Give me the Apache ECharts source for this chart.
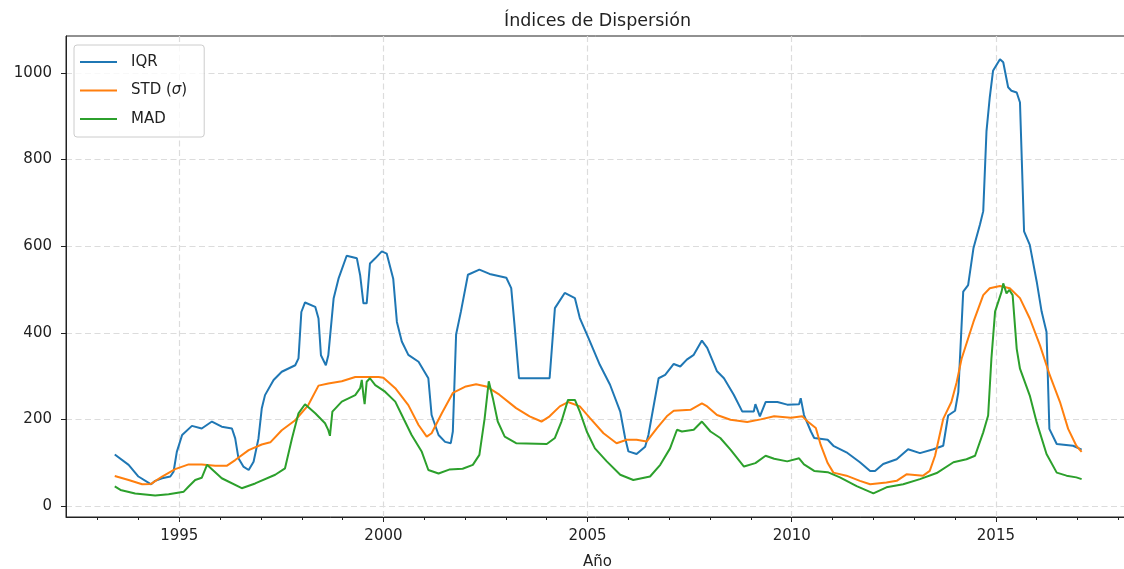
<!DOCTYPE html>
<html>
<head>
<meta charset="utf-8">
<script src="https://cdn.jsdelivr.net/npm/echarts@6/dist/echarts.min.js"></script>
<style>
  html, body { margin: 0; padding: 0; background: #fff; }
  #chart { width: 1124px; height: 569px; }
</style>
</head>
<body>
<div id="chart"></div>
<script>
// Dispersion indices over time (decimal years)
const iqrYears = [1993.42,1993.76,1994.0,1994.31,1994.41,1994.58,1994.78,1994.86,1994.94,1995.07,1995.31,1995.55,1995.80,1996.04,1996.29,1996.37,1996.45,1996.57,1996.70,1996.82,1996.94,1997.02,1997.10,1997.31,1997.51,1997.84,1997.92,1997.99,1998.08,1998.33,1998.41,1998.47,1998.59,1998.65,1998.78,1998.90,1999.10,1999.35,1999.43,1999.51,1999.59,1999.67,1999.80,1999.96,2000.08,2000.24,2000.33,2000.45,2000.61,2000.86,2001.10,2001.18,2001.35,2001.51,2001.65,2001.70,2001.78,2001.90,2002.07,2002.35,2002.60,2003.01,2003.13,2003.21,2003.32,2004.07,2004.20,2004.44,2004.69,2004.81,2005.02,2005.30,2005.55,2005.80,2005.92,2006.00,2006.20,2006.41,2006.49,2006.74,2006.90,2007.11,2007.27,2007.43,2007.60,2007.80,2007.93,2008.17,2008.34,2008.58,2008.79,2009.07,2009.11,2009.22,2009.36,2009.65,2009.89,2010.18,2010.22,2010.30,2010.47,2010.55,2010.88,2011.02,2011.34,2011.67,2011.92,2012.04,2012.24,2012.57,2012.85,2013.14,2013.47,2013.71,2013.83,2014.00,2014.08,2014.20,2014.32,2014.45,2014.61,2014.69,2014.77,2014.85,2014.93,2015.10,2015.18,2015.30,2015.38,2015.51,2015.59,2015.69,2015.83,2016.00,2016.12,2016.24,2016.31,2016.49,2016.89,2017.10];
const iqrValues = [119,95,68,50,58,64,68,79,125,164,185,179,195,183,179,156,110,91,83,102,156,225,256,291,310,325,341,448,470,460,433,348,325,348,479,525,578,572,533,468,468,560,572,588,583,525,425,380,349,333,295,210,164,148,145,172,396,450,534,546,536,527,503,419,295,295,457,492,480,434,388,326,280,218,157,126,120,137,164,295,303,328,322,338,349,382,365,311,295,257,218,218,235,207,240,240,234,235,249,210,172,157,153,139,124,101,81,81,97,108,131,122,131,139,209,220,263,495,510,595,650,681,866,944,1005,1032,1025,967,959,955,932,634,603,518,449,402,178,143,139,130];

const stdYears = [1993.42,1993.76,1994.09,1994.31,1994.58,1994.90,1995.23,1995.55,1995.88,1996.17,1996.37,1996.70,1997.02,1997.23,1997.51,1997.84,1998.16,1998.41,1998.65,1998.98,1999.31,1999.88,2000.00,2000.29,2000.61,2000.86,2001.06,2001.18,2001.43,2001.70,2002.02,2002.27,2002.52,2002.84,2003.25,2003.58,2003.87,2004.07,2004.32,2004.52,2004.81,2005.06,2005.39,2005.71,2005.96,2006.20,2006.45,2006.70,2006.94,2007.11,2007.52,2007.80,2007.93,2008.17,2008.50,2008.91,2009.24,2009.57,2009.98,2010.26,2010.39,2010.59,2010.71,2010.88,2011.02,2011.34,2011.67,2011.92,2012.32,2012.57,2012.81,2013.22,2013.38,2013.51,2013.71,2013.91,2014.04,2014.16,2014.45,2014.69,2014.85,2015.10,2015.34,2015.59,2015.83,2016.08,2016.32,2016.57,2016.77,2016.97,2017.10];
const stdValues = [69,60,50,51,68,85,96,96,93,93,106,129,142,147,175,198,233,278,283,288,298,298,296,272,233,187,160,168,214,261,276,281,276,257,226,207,195,207,230,240,230,203,168,145,153,153,149,180,207,220,222,237,230,210,199,194,200,207,204,207,195,180,141,99,77,70,58,50,54,58,73,70,81,116,201,240,286,340,425,487,503,508,503,480,433,371,302,240,178,139,125];

const madYears = [1993.42,1993.56,1993.92,1994.41,1994.74,1995.11,1995.23,1995.39,1995.55,1995.68,1995.80,1996.04,1996.53,1996.86,1997.35,1997.59,1997.76,1997.92,1998.08,1998.33,1998.57,1998.65,1998.69,1998.75,1998.98,1999.31,1999.43,1999.47,1999.51,1999.54,1999.59,1999.67,1999.80,2000.04,2000.29,2000.45,2000.69,2000.94,2001.10,2001.35,2001.61,2001.94,2002.19,2002.35,2002.48,2002.58,2002.68,2002.80,2002.97,2003.25,2004.00,2004.20,2004.36,2004.52,2004.69,2004.81,2004.98,2005.18,2005.47,2005.80,2006.12,2006.53,2006.78,2007.02,2007.19,2007.31,2007.60,2007.80,2008.01,2008.25,2008.50,2008.83,2009.11,2009.36,2009.57,2009.89,2010.18,2010.30,2010.55,2010.88,2011.18,2011.59,2012.00,2012.32,2012.73,2013.14,2013.55,2013.96,2014.28,2014.49,2014.69,2014.81,2014.89,2014.98,2015.14,2015.18,2015.26,2015.33,2015.41,2015.51,2015.59,2015.83,2016.00,2016.24,2016.49,2016.73,2016.97,2017.10];
const madValues = [45,37,29,24,27,33,45,60,65,95,85,64,41,52,72,87,156,214,235,214,191,175,162,218,241,256,272,291,256,235,287,295,279,264,241,210,164,125,83,75,84,86,95,118,203,288,249,195,160,145,143,157,195,245,245,218,172,133,103,72,60,68,95,133,176,172,176,195,172,157,130,91,99,116,109,103,110,96,81,78,66,46,29,43,50,62,76,101,108,116,170,209,340,449,495,514,491,499,487,363,317,255,193,120,77,70,66,62];

const xTicks = [1995, 2000, 2005, 2010, 2015];
const yTicks = [0, 200, 400, 600, 800, 1000];

const FONT = 'DejaVu Sans';
const pairs = (xs, ys) => xs.map((x, i) => [x, ys[i]]);
// flat bar used as the legend handle so each entry shows a plain line
const LINE_ICON = 'path://M0,0H37V2H0Z';

const chart = echarts.init(document.getElementById('chart'), null, { renderer: 'canvas' });

const gridLine = { show: true, lineStyle: { color: '#dcdcdc', width: 1.2, type: [6, 3.5] } };

chart.setOption({
  animation: false,
  backgroundColor: '#fff',
  title: {
    text: 'Índices de Dispersión',
    left: 597.5, top: 12, textAlign: 'center', padding: 0,
    textStyle: { fontFamily: FONT, fontSize: 17.5, fontWeight: 'normal', color: '#222' }
  },
  grid: {
    left: 66, right: -5, top: 36, bottom: 52,
    outerBoundsMode: 'none', containLabel: false,
    show: true, borderColor: '#222', borderWidth: 1, backgroundColor: 'transparent'
  },
  legend: {
    orient: 'vertical',
    left: 74, top: 45,
    padding: [9, 17, 10, 6],
    itemGap: 12.5,
    itemWidth: 37, itemHeight: 14,
    backgroundColor: 'rgba(255,255,255,0.8)',
    borderColor: '#cccccc', borderWidth: 1, borderRadius: 3,
    data: [
      { name: 'IQR', icon: LINE_ICON },
      { name: 'STD (σ)', icon: LINE_ICON },
      { name: 'MAD', icon: LINE_ICON }
    ],
    formatter: name => name === 'STD (σ)' ? 'STD ({i|σ})' : name,
    textStyle: {
      fontFamily: FONT, fontSize: 15, color: '#222', lineHeight: 16,
      padding: [0, 0, 0, 9],
      rich: { i: { fontFamily: FONT, fontSize: 15, fontStyle: 'italic', color: '#222', lineHeight: 16 } }
    }
  },
  xAxis: {
    type: 'value',
    min: 1992.226, max: 2018.26,
    name: 'Año', nameLocation: 'middle', nameGap: 38,
    nameTextStyle: { fontFamily: FONT, fontSize: 15, color: '#222' },
    axisLine: { show: true, onZero: false, lineStyle: { color: '#222', width: 1 } },
    axisTick: { show: true, length: 5, customValues: xTicks, lineStyle: { color: '#222' } },
    minorTick: { show: true, splitNumber: 5, length: 3, lineStyle: { color: '#222' } },
    axisLabel: {
      customValues: xTicks, margin: 12,
      fontFamily: FONT, fontSize: 15, color: '#222', formatter: v => String(Math.round(v))
    },
    splitLine: gridLine
  },
  yAxis: {
    type: 'value',
    min: -25.5, max: 1085.5,
    axisLine: { show: true, onZero: false, lineStyle: { color: '#222', width: 1 } },
    axisTick: { show: true, length: 5, customValues: yTicks, lineStyle: { color: '#222' } },
    axisLabel: {
      customValues: yTicks, margin: 14,
      fontFamily: FONT, fontSize: 15, color: '#222', formatter: v => String(Math.round(v))
    },
    splitLine: gridLine
  },
  series: [
    { name: 'IQR', type: 'line', data: pairs(iqrYears, iqrValues), symbol: 'none',
      lineStyle: { color: '#1f77b4', width: 2 }, itemStyle: { color: '#1f77b4' }, z: 3 },
    { name: 'STD (σ)', type: 'line', data: pairs(stdYears, stdValues), symbol: 'none',
      lineStyle: { color: '#ff7f0e', width: 2 }, itemStyle: { color: '#ff7f0e' }, z: 4 },
    { name: 'MAD', type: 'line', data: pairs(madYears, madValues), symbol: 'none',
      lineStyle: { color: '#2ca02c', width: 2 }, itemStyle: { color: '#2ca02c' }, z: 5 }
  ]
});
</script>
</body>
</html>
